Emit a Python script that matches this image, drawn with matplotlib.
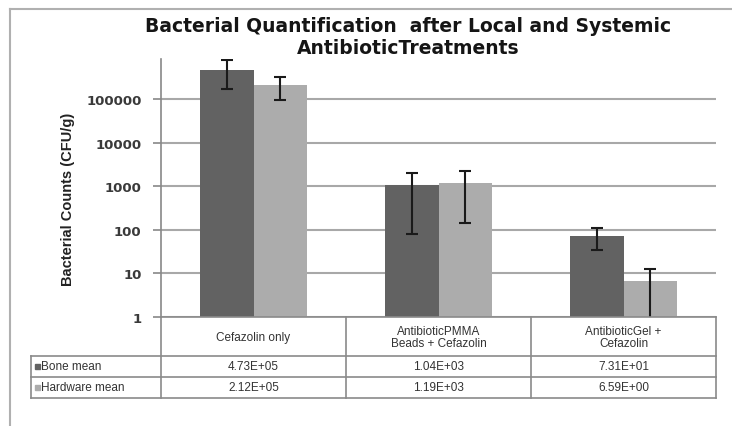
import numpy as np
import matplotlib.pyplot as plt

categories = ["Cefazolin only", "AntibioticPMMA\nBeads + Cefazolin", "AntibioticGel +\nCefazolin"]
series = ["Bone mean", "Hardware mean"]
bone = [4.73e5, 1.04e3, 7.31e1]
hardware = [2.12e5, 1.19e3, 6.59e0]
bone_err = [3.0e5, 960, 39]
hardware_err = [1.15e5, 1050, 6.0]
yticks = [1, 10, 100, 1000, 10000, 100000]

W, H = 732, 427
dark = '#626262'
light = '#acacac'
grid = '#a8a8a8'

fig = plt.figure(figsize=(W / 100, H / 100), dpi=100)
plt.rcParams['font.family'] = ['Liberation Sans', 'DejaVu Sans']

# plot area in pixels
x0, x1, y0, y1 = 161, 716, 318, 60
ax = fig.add_axes([x0 / W, 1 - y0 / H, (x1 - x0) / W, (y0 - y1) / H])

x = np.arange(len(categories))
bw = 0.287
ax.bar(x - bw / 2, bone, bw, color=dark, zorder=3)
ax.bar(x + bw / 2, hardware, bw, color=light, zorder=3)
ax.errorbar(x - bw / 2, bone, yerr=bone_err, fmt='none', ecolor='#1a1a1a',
            elinewidth=1.5, capsize=4, capthick=1.5, zorder=4)
ax.errorbar(x + bw / 2, hardware, yerr=hardware_err, fmt='none', ecolor='#1a1a1a',
            elinewidth=1.5, capsize=4, capthick=1.5, zorder=4)

ax.set_yscale('log')
ax.set_ylim(1, 8.3e5)
ax.set_xlim(-0.5, 2.5)
ax.set_yticks(yticks)
ax.set_yticklabels([str(t) for t in yticks], fontsize=9.5, color='#3a3a3a',
                   fontweight='bold', family='DejaVu Sans')
ax.minorticks_off()
ax.tick_params(axis='y', length=6, width=1.2, color='#888888', pad=8)
ax.set_xticks([])
ax.yaxis.grid(True, color=grid, lw=1.5, zorder=0)
for s in ['top', 'right', 'bottom']:
    ax.spines[s].set_visible(False)
ax.spines['left'].set_color('#888888')
ax.spines['left'].set_linewidth(1.2)

fig.text(68 / W, 1 - 199 / H, "Bacterial Counts (CFU/g)", rotation=90,
         ha='center', va='center', fontsize=10.5, fontweight='bold', color='#222222')

fig.text(408 / W, 1 - 27 / H, "Bacterial Quantification  after Local and Systemic",
         ha='center', va='center', fontsize=13.5, fontweight='bold', color='#151515',
         family='DejaVu Sans')
fig.text(408 / W, 1 - 49 / H, "AntibioticTreatments",
         ha='center', va='center', fontsize=13.5, fontweight='bold', color='#151515',
         family='DejaVu Sans')

# overlay for frame and data table
ov = fig.add_axes([0, 0, 1, 1], zorder=-1)
ov.set_xlim(0, W)
ov.set_ylim(H, 0)
ov.axis('off')
ov.plot([10, 10], [10, H], color='#b0b0b0', lw=1.5)
ov.plot([10, W], [10, 10], color='#b0b0b0', lw=1.5)

tl = '#8a8a8a'
rows_y = [318, 357, 378, 399]
tx0 = 31
colw = (x1 - x0) / len(categories)
ov2 = fig.add_axes([0, 0, 1, 1])
ov2.set_xlim(0, W)
ov2.set_ylim(H, 0)
ov2.axis('off')
ov2.plot([x0, x1], [318, 318], color=tl, lw=1.2)
for yy in rows_y[1:]:
    ov2.plot([tx0, x1], [yy, yy], color=tl, lw=1.2)
ov2.plot([tx0, tx0], [357, 399], color=tl, lw=1.2)
for i in range(len(categories) + 1):
    xx = x0 + i * colw
    ov2.plot([xx, xx], [318, 399], color=tl, lw=1.2)

for i, c in enumerate(categories):
    cx = x0 + (i + 0.5) * colw
    ov2.text(cx, 338, c, ha='center', va='center', fontsize=8.5, color='#333333',
             linespacing=1.0)
    ov2.text(cx, 367.5, "%.2E" % bone[i], ha='center', va='center', fontsize=8.5, color='#333333')
    ov2.text(cx, 388.5, "%.2E" % hardware[i], ha='center', va='center', fontsize=8.5, color='#333333')

for yy, name, col in [(367.5, series[0], dark), (388.5, series[1], light)]:
    ov2.add_patch(plt.Rectangle((35, yy - 2.5), 5, 5, color=col))
    ov2.text(41, yy, name, ha='left', va='center', fontsize=8.5, color='#333333')

fig.savefig("out.png", dpi=100)
